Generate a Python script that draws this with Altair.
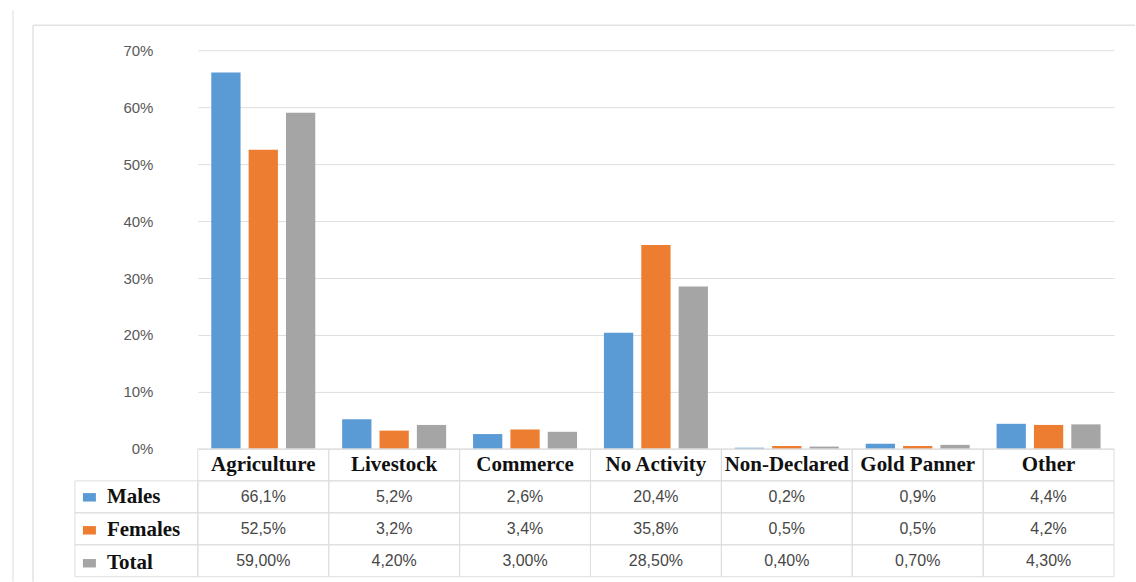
import altair as alt
import pandas as pd

categories = ["Agriculture", "Livestock", "Commerce", "No Activity", "Non-Declared", "Gold Panner", "Other"]
series = ["Males", "Females", "Total"]
males = [66.1, 5.2, 2.6, 20.4, 0.2, 0.9, 4.4]
females = [52.5, 3.2, 3.4, 35.8, 0.5, 0.5, 4.2]
total = [59.0, 4.2, 3.0, 28.5, 0.4, 0.7, 4.3]
decimals = {"Males": 1, "Females": 1, "Total": 2}
colors = ["#5B9BD5", "#ED7D31", "#A5A5A5"]

W, PLOT_H, ROW_H = 917, 399, 32
rows = ["header"] + series
TABLE_TOP = PLOT_H
TABLE_BOT = PLOT_H + ROW_H * len(rows)

vals = {"Males": males, "Females": females, "Total": total}
bar_records, cell_records = [], []
for s in series:
    for c, v in zip(categories, vals[s]):
        bar_records.append({"category": c, "series": s, "value": v / 100})
        lab = f"{v:.{decimals[s]}f}%".replace(".", ",")
        cell_records.append({"category": c, "row": s, "label": lab})
header_records = [{"category": c, "row": "header", "label": c} for c in categories]
bars_df = pd.DataFrame(bar_records)
cells_df = pd.DataFrame(cell_records)
header_df = pd.DataFrame(header_records)
all_cells_df = pd.concat([header_df, cells_df], ignore_index=True)
legend_rows_df = pd.DataFrame({"row": series})

xscale = alt.Scale(domain=categories, type="band", paddingInner=0, paddingOuter=0)
rowscale = alt.Scale(domain=rows, type="band", range=[TABLE_TOP, TABLE_BOT], paddingInner=0, paddingOuter=0)
grid_col = "#dedede"

# Bounds so the canvas is exactly 1136x582 with plot origin at (198, 50)
bounds = alt.Chart(pd.DataFrame({"a": [0]})).mark_rect(opacity=0, fill="white").encode(
    x=alt.value(-198), x2=alt.value(938), y=alt.value(-50), y2=alt.value(532)
)
frame_top = alt.Chart(pd.DataFrame({"a": [0]})).mark_rule(color="#e3e3e3", strokeWidth=1.5).encode(
    x=alt.value(-165), x2=alt.value(938), y=alt.value(-25)
)
frame_left = alt.Chart(pd.DataFrame({"a": [0]})).mark_rule(color="#e3e3e3", strokeWidth=1.5).encode(
    x=alt.value(-165), y=alt.value(-25), y2=alt.value(532)
)
outer_left = alt.Chart(pd.DataFrame({"a": [0]})).mark_rule(color="#e8e8e8", strokeWidth=1.5).encode(
    x=alt.value(-185), y=alt.value(-40), y2=alt.value(532)
)

bars = alt.Chart(bars_df).mark_bar().encode(
    x=alt.X("category:N", sort=categories, scale=xscale, axis=None),
    xOffset=alt.XOffset("series:N", sort=series,
                        scale=alt.Scale(domain=series, paddingInner=0.216, paddingOuter=0.36)),
    y=alt.Y("value:Q", scale=alt.Scale(domain=[0, 0.7], range=[PLOT_H, 0], nice=False),
            axis=alt.Axis(format=".0%", values=[0, 0.1, 0.2, 0.3, 0.4, 0.5, 0.6, 0.7],
                          title=None, domain=False, ticks=False, labelPadding=45,
                          grid=True, gridColor=grid_col, gridWidth=1,
                          labelFont="Liberation Sans", labelFontSize=15, labelColor="#595959")),
    color=alt.Color("series:N", sort=series, scale=alt.Scale(domain=series, range=colors),
                    legend=alt.Legend(orient="none", legendX=-119, legendY=437, title=None,
                                      symbolType="M -1 -0.65 L 1 -0.65 L 1 0.65 L -1 0.65 Z",
                                      symbolSize=169, symbolStrokeWidth=0,
                                      labelFont="Liberation Serif", labelFontWeight="bold",
                                      labelFontSize=21, labelColor="#111111",
                                      labelOffset=7, rowPadding=11, padding=0)),
)

cells = alt.Chart(all_cells_df).mark_rect(fill="white", fillOpacity=0, stroke=grid_col, strokeWidth=1).encode(
    x=alt.X("category:N", sort=categories, scale=xscale, axis=None),
    y=alt.Y("row:N", sort=rows, scale=rowscale, axis=None),
)
legend_cells = alt.Chart(legend_rows_df).mark_rect(fill="white", fillOpacity=0, stroke=grid_col, strokeWidth=1).encode(
    x=alt.value(-123), x2=alt.value(0),
    y=alt.Y("row:N", sort=rows, scale=rowscale, axis=None),
)

header_text = alt.Chart(header_df).mark_text(
    font="Liberation Serif", fontWeight="bold", fontSize=21, color="#111111", baseline="middle", align="center"
).encode(
    x=alt.X("category:N", sort=categories, scale=xscale, axis=None, bandPosition=0.5),
    y=alt.Y("row:N", sort=rows, scale=rowscale, axis=None, bandPosition=0.5),
    text="label:N",
)
value_text = alt.Chart(cells_df).mark_text(
    font="Liberation Sans", fontSize=16, color="#474747", baseline="middle", align="center"
).encode(
    x=alt.X("category:N", sort=categories, scale=xscale, axis=None, bandPosition=0.5),
    y=alt.Y("row:N", sort=rows, scale=rowscale, axis=None, bandPosition=0.5),
    text="label:N",
)

chart = alt.layer(
    bounds, outer_left, frame_top, frame_left, bars, cells, legend_cells, header_text, value_text
).resolve_scale(y="independent").properties(
    width=W, height=TABLE_BOT, padding=0, background="white"
).configure_view(strokeWidth=0)

chart.save("out.html", embed_options={"renderer": "svg", "actions": False})
